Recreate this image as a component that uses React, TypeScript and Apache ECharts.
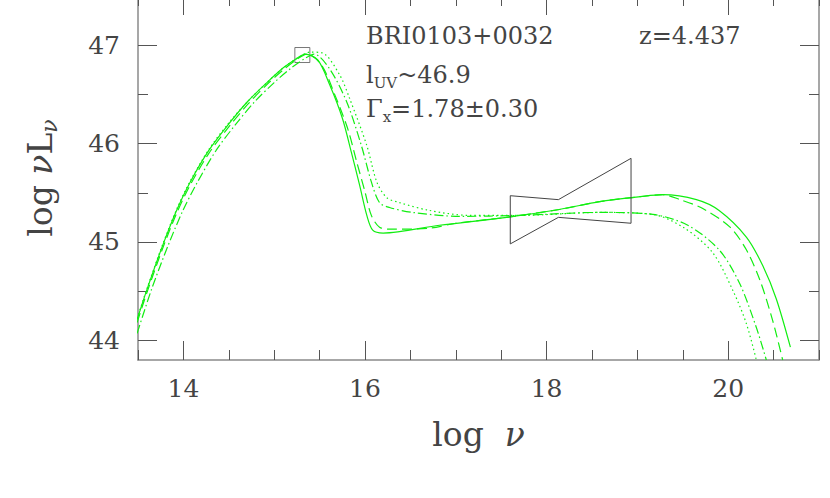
import React, { useEffect, useRef } from 'react';
import * as echarts from 'echarts';

// ---- data ----
const xMajorTicks = [14, 16, 18, 20];
const xMinorTicks = [13.5, 14, 14.5, 15, 15.5, 16, 16.5, 17, 17.5, 18, 18.5, 19, 19.5, 20, 20.5, 21];
const yMajorTicks = [44, 45, 46, 47];
const yMinorTicks = [44, 44.5, 45, 45.5, 46, 46.5, 47, 47.5];

const solidCurve = [
  [13.49, 44.21], [13.6, 44.52], [13.77, 44.96], [13.92, 45.31], [14.07, 45.6], [14.28, 45.93],
  [14.5, 46.2], [14.71, 46.43], [14.92, 46.62], [15.1, 46.77], [15.24, 46.86], [15.34, 46.91],
  [15.48, 46.85], [15.61, 46.6], [15.75, 46.26], [15.85, 45.91], [15.94, 45.58], [16.02, 45.27],
  [16.085, 45.12], [16.2, 45.09], [16.82, 45.17], [17.56, 45.25], [18.14, 45.33], [18.585, 45.41],
  [19.03, 45.46], [19.28, 45.48], [19.65, 45.43], [19.9, 45.32], [20.2, 45.05], [20.38, 44.76],
  [20.53, 44.42], [20.685, 43.93],
];
const dashedCurve = [
  [13.49, 44.18], [13.6, 44.49], [13.77, 44.93], [13.92, 45.28], [14.07, 45.57], [14.28, 45.9],
  [14.5, 46.17], [14.71, 46.4], [14.92, 46.6], [15.1, 46.75], [15.24, 46.85], [15.36, 46.91],
  [15.52, 46.8], [15.67, 46.49], [15.81, 46.15], [15.91, 45.81], [16.0, 45.51], [16.07, 45.27],
  [16.16, 45.15], [16.3, 45.13], [16.71, 45.14], [17.0, 45.19], [17.56, 45.25], [18.14, 45.33],
  [18.585, 45.41], [19.03, 45.46], [19.28, 45.48], [19.47, 45.43], [19.72, 45.34], [20.02, 45.15],
  [20.2, 44.92], [20.35, 44.61], [20.49, 44.2], [20.6, 43.8],
];
const dashDotCurve = [
  [13.49, 44.07], [13.65, 44.52], [13.83, 44.96], [13.99, 45.31], [14.15, 45.6], [14.36, 45.93],
  [14.58, 46.2], [14.79, 46.43], [15.0, 46.62], [15.19, 46.77], [15.33, 46.86], [15.44, 46.91],
  [15.61, 46.76], [15.8, 46.42], [15.96, 45.98], [16.07, 45.61], [16.16, 45.4], [16.27, 45.35],
  [16.525, 45.3], [17.04, 45.26], [17.7, 45.27], [18.585, 45.3], [19.17, 45.28], [19.555, 45.17],
  [19.9, 44.92], [20.125, 44.58], [20.31, 44.13], [20.42, 43.8],
];
const dottedCurve = [
  [13.49, 44.22], [13.6, 44.53], [13.77, 44.97], [13.92, 45.32], [14.07, 45.61], [14.28, 45.94],
  [14.5, 46.21], [14.71, 46.43], [14.92, 46.62], [15.1, 46.77], [15.26, 46.87], [15.4, 46.93],
  [15.535, 46.92], [15.72, 46.7], [15.83, 46.46], [16.02, 45.98], [16.13, 45.61], [16.24, 45.45],
  [16.38, 45.4], [16.71, 45.32], [17.15, 45.27], [17.7, 45.27], [18.585, 45.3], [19.17, 45.28],
  [19.52, 45.14], [19.83, 44.89], [20.05, 44.51], [20.2, 44.17], [20.31, 43.8],
];
const bowtie = [
  [17.6, 45.47], [18.13, 45.43], [18.93, 45.85], [18.93, 45.19], [18.13, 45.25], [17.6, 44.98], [17.6, 45.47],
];
const uvPoint = [[15.31, 46.9]];

const xRange = [13.5, 21];
const yRange = [43.8, 47.5];

const FONT = '"DejaVu Serif", serif';
const TXT = '#444';
const GREEN = '#11ee11';
const FRAME = '#8a8a8a';
const TICK = '#555';

function xAxisDef(gridIndex: number, position: string, ticks: number[], len: number, main: boolean, labels: boolean) {
  return {
    type: 'value', gridIndex, position, min: xRange[0], max: xRange[1],
    splitLine: { show: false },
    axisLine: { show: main, onZero: false, lineStyle: { color: FRAME, width: 1.5 } },
    axisTick: { show: true, inside: true, length: len, customValues: ticks, lineStyle: { color: TICK, width: 1 } },
    axisLabel: labels
      ? { show: true, customValues: ticks, margin: 16, fontFamily: FONT, fontSize: 25, color: TXT }
      : { show: false },
    ...(labels
      ? {
          name: 'log  {i|ν}', nameLocation: 'middle', nameGap: 58,
          nameTextStyle: { fontFamily: FONT, fontSize: 33, color: TXT, rich: { i: { fontFamily: FONT, fontSize: 33, fontStyle: 'italic', color: TXT } } },
        }
      : {}),
  };
}

function yAxisDef(gridIndex: number, position: string, ticks: number[], len: number, main: boolean, labels: boolean) {
  return {
    type: 'value', gridIndex, position, min: yRange[0], max: yRange[1],
    splitLine: { show: false },
    axisLine: { show: main, onZero: false, lineStyle: { color: FRAME, width: 1.5 } },
    axisTick: { show: true, inside: true, length: len, customValues: ticks, lineStyle: { color: TICK, width: 1 } },
    axisLabel: labels
      ? { show: true, customValues: ticks, margin: 18, fontFamily: FONT, fontSize: 25, color: TXT }
      : { show: false },
    ...(labels
      ? {
          name: 'log {i|ν}L{s|ν}', nameLocation: 'middle', nameGap: 78, nameRotate: 90,
          nameTextStyle: {
            fontFamily: FONT, fontSize: 33, color: TXT, lineHeight: 40,
            rich: {
              i: { fontFamily: FONT, fontSize: 33, fontStyle: 'italic', color: TXT, lineHeight: 40 },
              s: { fontFamily: FONT, fontSize: 22, fontStyle: 'italic', color: TXT, verticalAlign: 'bottom', lineHeight: 22 },
            },
          },
        }
      : {}),
  };
}

function curve(data: number[][], type: any) {
  return {
    type: 'line', data, xAxisIndex: 0, yAxisIndex: 0, symbol: 'none', showSymbol: false,
    smooth: 0.3, silent: true, clip: true,
    lineStyle: { color: GREEN, width: 1.2, type },
  };
}

export default function App() {
  const ref = useRef<HTMLDivElement>(null);
  useEffect(() => {
    const chart = echarts.init(ref.current!, undefined, { renderer: 'svg' });
    const gridPos = { left: 138, right: 11, top: 0, bottom: 138, containLabel: false };
    chart.setOption({
      animation: false,
      backgroundColor: '#ffffff',
      grid: [gridPos, gridPos],
      xAxis: [
        xAxisDef(0, 'bottom', xMajorTicks, 19, true, true),
        xAxisDef(0, 'top', xMajorTicks, 19, true, false),
        xAxisDef(1, 'bottom', xMinorTicks, 10, false, false),
        xAxisDef(1, 'top', xMinorTicks, 10, false, false),
      ],
      yAxis: [
        yAxisDef(0, 'left', yMajorTicks, 19, true, true),
        yAxisDef(0, 'right', yMajorTicks, 19, true, false),
        yAxisDef(1, 'left', yMinorTicks, 10, false, false),
        yAxisDef(1, 'right', yMinorTicks, 10, false, false),
      ],
      series: [
        curve(solidCurve, 'solid'),
        curve(dashedCurve, [10, 5]),
        curve(dashDotCurve, [9, 3, 1.5, 3]),
        curve(dottedCurve, [1.5, 3]),
        {
          type: 'line', data: bowtie, xAxisIndex: 0, yAxisIndex: 0, symbol: 'none', silent: true,
          lineStyle: { color: '#444', width: 1 },
        },
        {
          type: 'scatter', data: uvPoint, xAxisIndex: 0, yAxisIndex: 0, symbol: 'rect', symbolSize: 15, silent: true,
          itemStyle: { color: 'rgba(0,0,0,0)', borderColor: '#555', borderWidth: 1 },
        },
      ],
      graphic: [
        { type: 'text', x: 366, y: 28, style: { text: 'BRI0103+0032', fontFamily: FONT, fontSize: 24, fill: TXT } },
        { type: 'text', x: 639, y: 28, style: { text: 'z=4.437', fontFamily: FONT, fontSize: 24, fill: TXT } },
        {
          type: 'text', x: 366, y: 64,
          style: {
            text: 'l{sub|UV}~46.9', fontFamily: FONT, fontSize: 24, fill: TXT, lineHeight: 30,
            rich: { sub: { fontFamily: FONT, fontSize: 15, fill: TXT, verticalAlign: 'bottom', lineHeight: 15 } },
          },
        },
        {
          type: 'text', x: 366, y: 98,
          style: {
            text: 'Γ{sub|x}=1.78±0.30', fontFamily: FONT, fontSize: 24, fill: TXT, lineHeight: 30,
            rich: { sub: { fontFamily: FONT, fontSize: 15, fill: TXT, verticalAlign: 'bottom', lineHeight: 15 } },
          },
        },
      ],
    });
    return () => chart.dispose();
  }, []);
  return <div ref={ref} style={{ position: 'absolute', left: 0, top: -4, width: 830, height: 502 }} />;
}
